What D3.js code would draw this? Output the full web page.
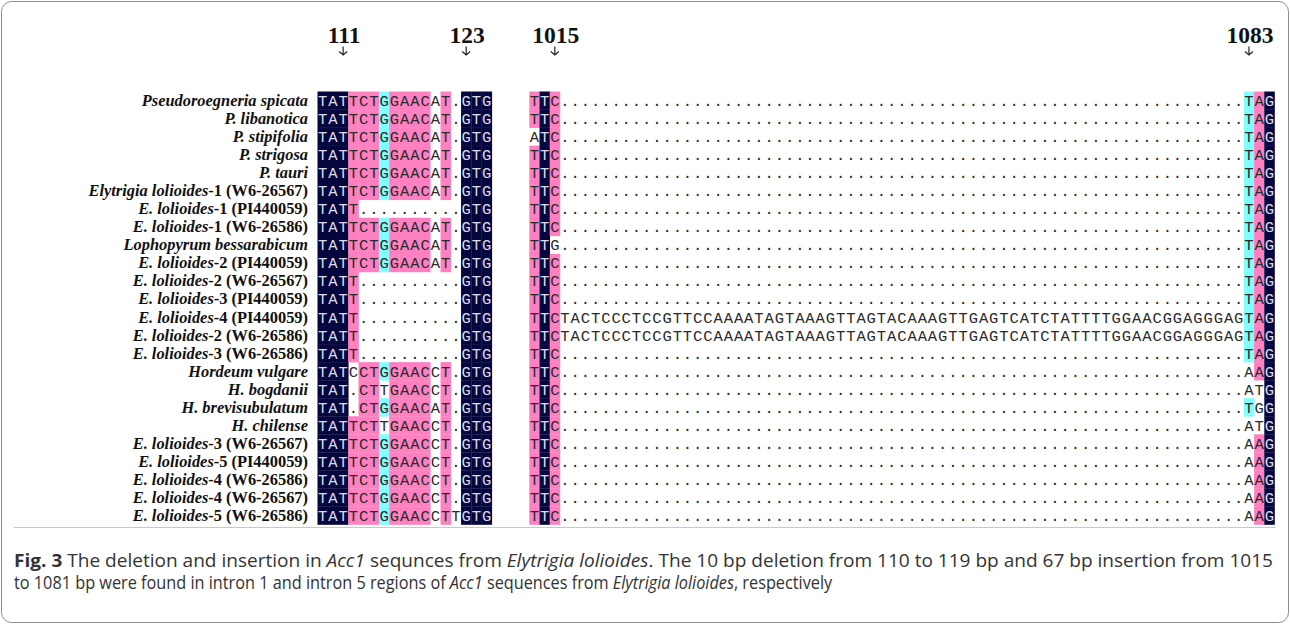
<!DOCTYPE html>
<html>
<head>
<meta charset="utf-8">
<script src="https://cdn.jsdelivr.net/npm/d3@7"></script>
<style>
  body { margin: 0; background: #fff; }
</style>
</head>
<body>
<div id="chart"></div>
<script>
// taxa, top to bottom
const taxa = [
  'Pseudoroegneria spicata', 'P. libanotica', 'P. stipifolia', 'P. strigosa', 'P. tauri',
  'Elytrigia lolioides-1 (W6-26567)', 'E. lolioides-1 (PI440059)', 'E. lolioides-1 (W6-26586)',
  'Lophopyrum bessarabicum', 'E. lolioides-2 (PI440059)', 'E. lolioides-2 (W6-26567)',
  'E. lolioides-3 (PI440059)', 'E. lolioides-4 (PI440059)', 'E. lolioides-2 (W6-26586)',
  'E. lolioides-3 (W6-26586)', 'Hordeum vulgare', 'H. bogdanii', 'H. brevisubulatum',
  'H. chilense', 'E. lolioides-3 (W6-26567)', 'E. lolioides-5 (PI440059)',
  'E. lolioides-4 (W6-26586)', 'E. lolioides-4 (W6-26567)', 'E. lolioides-5 (W6-26586)'
];

// intron 1 region (positions 111-123)
const intron1Seqs = [
  'TATTCTGGAACAT.GTG', 'TATTCTGGAACAT.GTG', 'TATTCTGGAACAT.GTG', 'TATTCTGGAACAT.GTG',
  'TATTCTGGAACAT.GTG', 'TATTCTGGAACAT.GTG', 'TATT..........GTG', 'TATTCTGGAACAT.GTG',
  'TATTCTGGAACAT.GTG', 'TATTCTGGAACAT.GTG', 'TATT..........GTG', 'TATT..........GTG',
  'TATT..........GTG', 'TATT..........GTG', 'TATT..........GTG', 'TATCCTGGAACCT.GTG',
  'TAT.CTTGAACCT.GTG', 'TAT.CTGGAACAT.GTG', 'TATTCTTGAACCT.GTG', 'TATTCTGGAACCT.GTG',
  'TATTCTGGAACCT.GTG', 'TATTCTGGAACCT.GTG', 'TATTCTGGAACCT.GTG', 'TATTCTGGAACCTTGTG'
];

// intron 5 region (positions 1015-1083)
const gap67 = '...................................................................';
const insert67 = 'TACTCCCTCCGTTCCAAAATAGTAAAGTTAGTACAAAGTTGAGTCATCTATTTTGGAACGGAGGGAG';
const intron5Starts = ['TTC', 'TTC', 'ATC', 'TTC', 'TTC', 'TTC', 'TTC', 'TTC', 'TTG', 'TTC', 'TTC', 'TTC',
  'TTC', 'TTC', 'TTC', 'TTC', 'TTC', 'TTC', 'TTC', 'TTC', 'TTC', 'TTC', 'TTC', 'TTC'];
const intron5Middles = [gap67, gap67, gap67, gap67, gap67, gap67, gap67, gap67, gap67, gap67, gap67, gap67,
  insert67, insert67, gap67, gap67, gap67, gap67, gap67, gap67, gap67, gap67, gap67, gap67];
const intron5Ends = ['TAG', 'TAG', 'TAG', 'TAG', 'TAG', 'TAG', 'TAG', 'TAG', 'TAG', 'TAG', 'TAG', 'TAG',
  'TAG', 'TAG', 'TAG', 'AAG', 'ATG', 'TGG', 'ATG', 'AAG', 'AAG', 'AAG', 'AAG', 'AAG'];
const intron5Seqs = intron5Starts.map(function(s, i) {
  return s + intron5Middles[i] + intron5Ends[i];
});

// position marks above the alignment
const markLabels = ['111', '123', '1015', '1083'];
const markBlock = [0, 0, 1, 1];
const markColumn = [2, 14, 2, 70];

const captionLine1 = [
  ['Fig. 3', 'b'], [' The deletion and insertion in ', ''], ['Acc1', 'i'], [' sequnces from ', ''],
  ['Elytrigia lolioides', 'i'],
  ['. The 10 bp deletion from 110 to 119 bp and 67 bp insertion from 1015', '']
];
const captionLine2 = [
  ['to 1081 bp were found in intron 1 and intron 5 regions of ', ''], ['Acc1', 'i'],
  [' sequences from ', ''], ['Elytrigia lolioides', 'i'], [', respectively', '']
];

var width = 1290;
var height = 624;
var navy = '#06063f';
var pink = '#ff80c0';
var cyan = '#80ffff';

var svg = d3.select('#chart')
  .append('svg')
  .attr('width', width)
  .attr('height', height);

svg.append('rect')
  .attr('x', 1.5)
  .attr('y', 1.5)
  .attr('width', width - 3)
  .attr('height', height - 3)
  .attr('rx', 10)
  .attr('fill', 'none')
  .attr('stroke', '#8c8c8c');

var y = d3.scaleBand()
  .domain(d3.range(taxa.length))
  .range([91.5, 524.5]);

var blocks = [
  { seqs: intron1Seqs, x: d3.scaleLinear().domain([0, 17]).range([317.5, 491.8]) },
  { seqs: intron5Seqs, x: d3.scaleLinear().domain([0, 73]).range([529.3, 1274.5]) }
];

// shading like the alignment program: 100% navy, >=75% pink, >=50% cyan
function shadeCells(seqs) {
  var n = seqs.length;
  var cells = [];
  for (var c = 0; c < seqs[0].length; c++) {
    var column = seqs.map(function(s) { return s[c]; });
    var counts = d3.rollups(column.filter(function(ch) { return ch !== '.'; }),
      function(v) { return v.length; }, function(ch) { return ch; });
    var best = d3.greatest(counts, function(d) { return d[1]; });
    var frac = best ? best[1] / n : 0;
    var fill = frac === 1 ? navy : frac >= 0.75 ? pink : frac >= 0.5 ? cyan : null;
    column.forEach(function(ch, r) {
      cells.push({ row: r, col: c, ch: ch, fill: best && ch === best[0] ? fill : null });
    });
  }
  return cells;
}

blocks.forEach(function(b) {
  var cells = shadeCells(b.seqs);
  var g = svg.append('g');

  g.selectAll('rect')
    .data(cells.filter(function(d) { return d.fill; }))
    .enter()
    .append('rect')
    .attr('x', function(d) { return b.x(d.col); })
    .attr('y', function(d) { return y(d.row); })
    .attr('width', function(d) { return b.x(d.col + 1) - b.x(d.col) + 0.3; })
    .attr('height', y.bandwidth() + 0.3)
    .attr('fill', function(d) { return d.fill; });

  g.selectAll('text')
    .data(cells)
    .enter()
    .append('text')
    .attr('x', function(d) { return (b.x(d.col) + b.x(d.col + 1)) / 2; })
    .attr('y', function(d) { return y(d.row) + y.bandwidth() / 2 + 5.5; })
    .attr('text-anchor', 'middle')
    .attr('font-family', '"Courier New", "Liberation Mono", monospace')
    .attr('font-size', 15.5)
    .attr('fill', function(d) { return d.fill === navy ? '#dcdcec' : '#2a2a2a'; })
    .text(function(d) { return d.ch; });
});

// taxon labels, genus/species italic, suffix upright
var labels = svg.append('g')
  .selectAll('text')
  .data(taxa)
  .enter()
  .append('text')
  .attr('x', 308)
  .attr('y', function(d, i) { return y(i) + y.bandwidth() / 2 + 5.5; })
  .attr('text-anchor', 'end')
  .attr('font-family', '"Liberation Serif", "Times New Roman", serif')
  .attr('font-weight', 'bold')
  .attr('font-size', 16.4)
  .attr('fill', '#111');

labels.append('tspan')
  .attr('font-style', 'italic')
  .text(function(d) { return d.split('-')[0]; });

labels.append('tspan')
  .text(function(d) {
    var k = d.indexOf('-');
    return k < 0 ? '' : d.slice(k);
  });

// position numbers with arrows
markLabels.forEach(function(m, i) {
  var x = blocks[markBlock[i]].x;
  var cx = (x(markColumn[i]) + x(markColumn[i] + 1)) / 2;
  svg.append('text')
    .attr('x', cx + 1)
    .attr('y', 43)
    .attr('text-anchor', 'middle')
    .attr('font-family', '"Liberation Serif", "Times New Roman", serif')
    .attr('font-weight', 'bold')
    .attr('font-size', 23.5)
    .attr('fill', '#111')
    .text(m);
  svg.append('path')
    .attr('d', 'M' + cx + ',46.5V55M' + (cx - 4) + ',51.5L' + cx + ',55L' + (cx + 4) + ',51.5')
    .attr('fill', 'none')
    .attr('stroke', '#222')
    .attr('stroke-width', 1.2);
});

// caption
svg.append('line')
  .attr('x1', 14)
  .attr('x2', 1276)
  .attr('y1', 527.5)
  .attr('y2', 527.5)
  .attr('stroke', '#c8c8c8');

function captionLine(parts, yPos, targetWidth) {
  var t = svg.append('text')
    .attr('y', yPos)
    .attr('font-family', '"Open Sans", "Noto Sans", sans-serif')
    .attr('font-size', 18.5)
    .attr('fill', '#333');
  parts.forEach(function(p) {
    t.append('tspan')
      .attr('font-weight', p[1] === 'b' ? 'bold' : null)
      .attr('font-style', p[1] === 'i' ? 'italic' : null)
      .text(p[0]);
  });
  var w = t.node().getComputedTextLength();
  t.attr('transform', 'translate(14,0) scale(' + (targetWidth / w) + ',1)');
}

captionLine(captionLine1, 567, 1260);
captionLine(captionLine2, 589, 819);
</script>
</body>
</html>
